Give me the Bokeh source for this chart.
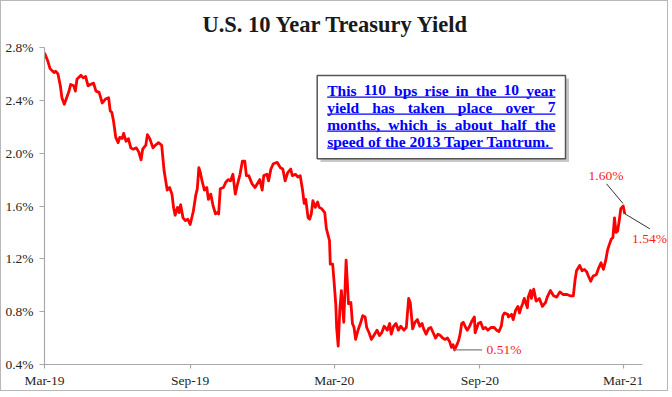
import pandas as pd
from datetime import datetime
from bokeh.plotting import figure
from bokeh.models import (Range1d, FixedTicker, DatetimeTickFormatter,
                          PrintfTickFormatter, Label, Arrow, ColumnDataSource)
from bokeh.embed import file_html
from bokeh.resources import INLINE

# ---------------- data ----------------
dates = [
    "2019-03-01", "2019-03-05", "2019-03-08", "2019-03-13", "2019-03-15", "2019-03-18",
    "2019-03-21", "2019-03-23", "2019-03-26", "2019-03-29", "2019-04-01", "2019-04-03",
    "2019-04-07", "2019-04-09", "2019-04-11", "2019-04-16", "2019-04-19", "2019-04-22",
    "2019-04-25", "2019-04-28", "2019-05-02", "2019-05-05", "2019-05-09", "2019-05-13",
    "2019-05-17", "2019-05-21", "2019-05-23", "2019-05-25", "2019-05-27", "2019-05-30",
    "2019-06-02", "2019-06-04", "2019-06-07", "2019-06-09", "2019-06-12", "2019-06-15",
    "2019-06-18", "2019-06-21", "2019-06-25", "2019-06-28", "2019-07-01", "2019-07-03",
    "2019-07-07", "2019-07-09", "2019-07-12", "2019-07-16", "2019-07-19", "2019-07-23",
    "2019-07-27", "2019-07-30", "2019-08-03", "2019-08-06", "2019-08-09", "2019-08-11",
    "2019-08-13", "2019-08-16", "2019-08-18", "2019-08-20", "2019-08-23", "2019-08-26",
    "2019-08-29", "2019-09-01", "2019-09-05", "2019-09-08", "2019-09-10", "2019-09-12",
    "2019-09-14", "2019-09-16", "2019-09-19", "2019-09-22", "2019-09-24", "2019-09-27",
    "2019-09-30", "2019-10-03", "2019-10-05", "2019-10-07", "2019-10-09", "2019-10-13",
    "2019-10-16", "2019-10-19", "2019-10-22", "2019-10-25", "2019-10-28", "2019-10-31",
    "2019-11-03", "2019-11-06", "2019-11-09", "2019-11-11", "2019-11-14", "2019-11-18",
    "2019-11-22", "2019-11-25", "2019-11-28", "2019-12-01", "2019-12-03", "2019-12-07",
    "2019-12-09", "2019-12-12", "2019-12-15", "2019-12-20", "2019-12-24", "2019-12-27",
    "2019-12-30", "2020-01-02", "2020-01-06", "2020-01-08", "2020-01-12", "2020-01-15",
    "2020-01-18", "2020-01-21", "2020-01-23", "2020-01-25", "2020-01-28", "2020-01-30",
    "2020-02-01", "2020-02-03", "2020-02-06", "2020-02-09", "2020-02-11", "2020-02-14",
    "2020-02-18", "2020-02-20", "2020-02-23", "2020-02-24", "2020-02-25", "2020-02-28",
    "2020-03-01", "2020-03-03", "2020-03-04", "2020-03-06", "2020-03-08", "2020-03-10",
    "2020-03-13", "2020-03-16", "2020-03-17", "2020-03-19", "2020-03-22", "2020-03-24",
    "2020-03-26", "2020-03-28", "2020-03-31", "2020-04-03", "2020-04-06", "2020-04-09",
    "2020-04-11", "2020-04-14", "2020-04-17", "2020-04-20", "2020-04-24", "2020-04-27",
    "2020-04-30", "2020-05-03", "2020-05-07", "2020-05-10", "2020-05-12", "2020-05-15",
    "2020-05-18", "2020-05-21", "2020-05-24", "2020-05-28", "2020-05-31", "2020-06-03",
    "2020-06-05", "2020-06-08", "2020-06-11", "2020-06-14", "2020-06-17", "2020-06-20",
    "2020-06-22", "2020-06-25", "2020-06-28", "2020-07-01", "2020-07-04", "2020-07-07",
    "2020-07-10", "2020-07-13", "2020-07-16", "2020-07-19", "2020-07-22", "2020-07-25",
    "2020-07-27", "2020-07-29", "2020-07-31", "2020-08-03", "2020-08-05", "2020-08-07",
    "2020-08-09", "2020-08-11", "2020-08-14", "2020-08-16", "2020-08-19", "2020-08-22",
    "2020-08-25", "2020-08-26", "2020-08-30", "2020-09-02", "2020-09-05", "2020-09-08",
    "2020-09-11", "2020-09-15", "2020-09-19", "2020-09-22", "2020-09-25", "2020-09-28",
    "2020-09-30", "2020-10-02", "2020-10-06", "2020-10-07", "2020-10-11", "2020-10-13",
    "2020-10-16", "2020-10-19", "2020-10-21", "2020-10-23", "2020-10-25", "2020-10-27",
    "2020-10-31", "2020-11-01", "2020-11-04", "2020-11-05", "2020-11-08", "2020-11-11",
    "2020-11-15", "2020-11-19", "2020-11-23", "2020-11-25", "2020-11-29", "2020-12-03",
    "2020-12-07", "2020-12-11", "2020-12-15", "2020-12-20", "2020-12-24", "2020-12-28",
    "2020-12-30", "2021-01-01", "2021-01-05", "2021-01-08", "2021-01-11", "2021-01-14",
    "2021-01-16", "2021-01-19", "2021-01-22", "2021-01-26", "2021-01-29", "2021-02-01",
    "2021-02-04", "2021-02-07", "2021-02-09", "2021-02-11", "2021-02-14", "2021-02-16",
    "2021-02-18", "2021-02-20", "2021-02-22", "2021-02-24", "2021-02-26", "2021-03-01",
    "2021-03-03",
]
yields = [
    2.76, 2.70, 2.64, 2.61, 2.62, 2.60,
    2.51, 2.42, 2.37, 2.42, 2.47, 2.52,
    2.51, 2.47, 2.56, 2.59, 2.57, 2.58,
    2.51, 2.52, 2.53, 2.47, 2.46, 2.38,
    2.41, 2.42, 2.32, 2.31, 2.25, 2.12,
    2.08, 2.12, 2.11, 2.15, 2.09, 2.11,
    2.04, 2.03, 2.04, 2.01, 1.95, 2.03,
    2.06, 2.14, 2.11, 2.04, 2.06, 2.08,
    2.06, 1.87, 1.72, 1.74, 1.69, 1.59,
    1.53, 1.59, 1.55, 1.61, 1.51, 1.49,
    1.50, 1.46, 1.56, 1.68, 1.73, 1.89,
    1.85, 1.79, 1.72, 1.74, 1.65, 1.69,
    1.60, 1.54, 1.55, 1.54, 1.73, 1.74,
    1.78, 1.80, 1.79, 1.84, 1.69, 1.77,
    1.84, 1.94, 1.94, 1.83, 1.83, 1.77,
    1.74, 1.77, 1.80, 1.72, 1.83, 1.84,
    1.79, 1.88, 1.92, 1.93, 1.89, 1.88,
    1.79, 1.85, 1.88, 1.83, 1.84, 1.82,
    1.83, 1.72, 1.62, 1.65, 1.51, 1.50,
    1.54, 1.64, 1.59, 1.63, 1.59, 1.58,
    1.55, 1.43, 1.36, 1.34, 1.16, 1.16,
    1.01, 0.85, 0.68, 0.54, 0.81, 0.96,
    0.72, 1.19, 1.08, 0.86, 0.87, 0.71,
    0.68, 0.59, 0.66, 0.71, 0.77, 0.76,
    0.68, 0.64, 0.59, 0.62, 0.66, 0.62,
    0.64, 0.69, 0.66, 0.71, 0.63, 0.69,
    0.71, 0.66, 0.69, 0.66, 0.68, 0.90,
    0.87, 0.67, 0.72, 0.74, 0.69, 0.71,
    0.67, 0.63, 0.67, 0.68, 0.64, 0.60,
    0.63, 0.62, 0.60, 0.59, 0.60, 0.57,
    0.53, 0.55, 0.51, 0.55, 0.58, 0.63,
    0.71, 0.72, 0.68, 0.66, 0.69, 0.73,
    0.76, 0.64, 0.71, 0.72, 0.67, 0.68,
    0.66, 0.68, 0.68, 0.66, 0.65, 0.69,
    0.77, 0.79, 0.78, 0.76, 0.78, 0.74,
    0.81, 0.84, 0.79, 0.83, 0.86, 0.90,
    0.83, 0.91, 0.96, 0.90, 0.97, 0.88,
    0.90, 0.84, 0.87, 0.91, 0.96, 0.92,
    0.91, 0.95, 0.93, 0.93, 0.92, 0.92,
    1.03, 1.11, 1.15, 1.11, 1.12, 1.10,
    1.07, 1.03, 1.07, 1.08, 1.13, 1.17,
    1.12, 1.19, 1.26, 1.30, 1.35, 1.36,
    1.51, 1.40, 1.41, 1.49, 1.58, 1.60,
    1.54,
]
y_ticks = [0.4, 0.8, 1.2, 1.6, 2.0, 2.4, 2.8]
x_tick_dates = ["2019-03-01", "2019-09-01", "2020-03-01", "2020-09-01", "2021-03-01"]
title_text = "U.S. 10 Year Treasury Yield"
note_lines = [
    "This 110 bps rise in the 10 year",
    "yield has taken place over 7",
    "months, which is about half the",
    "speed of the 2013 Taper Tantrum.",
]
peak_label, last_label, low_label = "1.60%", "1.54%", "0.51%"

# ---------------- geometry (page pixels) ----------------
# canvas 668x391 + 1px CSS border -> page 670x393, canvas origin at (1, 1)
W, H = 668, 391
ORG = 1
AX_L, AX_R = 44.0, 642.0      # x-axis line from Mar-19 to its end
PX_MAR21 = 622.7              # x position of the Mar-21 tick
FB, FT = 364.0, 1.0           # frame bottom / top (page px)
PX_PER_UNIT = 317.0 / 2.4     # y px per 1 percentage point
Y0, Y_AXIS_TOP = 0.4, 2.8

x0_ms = pd.Timestamp("2019-03-01").value // 10**6
mar21_ms = pd.Timestamp("2021-03-01").value // 10**6
MS_PER_PX = (mar21_ms - x0_ms) / (PX_MAR21 - AX_L)
FR = ORG + W                  # frame right edge (page px)


def XD(px):
    return x0_ms + (px - AX_L) * MS_PER_PX


def YD(py):
    return Y0 + (FB - py) / PX_PER_UNIT


p = figure(width=W, height=H, x_axis_type="datetime", output_backend="svg",
           toolbar_location=None, title=None,
           x_range=Range1d(x0_ms, XD(FR)), y_range=Range1d(Y0, YD(FT)),
           min_border_left=int(AX_L - ORG), min_border_right=0, min_border_top=0,
           min_border_bottom=int(ORG + H - FB),
           background_fill_color="white", border_fill_color="white")
p.styles = {"border": "1px solid #b8b8b8"}
p.outline_line_color = None
p.xgrid.visible = False
p.ygrid.visible = False

src = ColumnDataSource(dict(x=pd.to_datetime(dates), y=yields))
p.line("x", "y", source=src, line_color="#ff0000", line_width=2.8, line_join="round")

AX = "#a8a8a8"
TXT = "#262626"
FONT = "Liberation Serif"
for ax in (p.xaxis[0], p.yaxis[0]):
    ax.axis_line_color = AX
    ax.axis_line_width = 1.2
    ax.major_tick_line_color = AX
    ax.major_tick_line_width = 1.2
    ax.major_tick_in = 0
    ax.minor_tick_line_color = None
    ax.major_label_text_font = FONT
    ax.major_label_text_font_size = "13.5px"
    ax.major_label_text_color = TXT

p.yaxis.ticker = FixedTicker(ticks=y_ticks)
p.yaxis.formatter = PrintfTickFormatter(format="%.1f%%")
p.yaxis.bounds = (Y0, Y_AXIS_TOP)
p.yaxis.major_tick_out = 5
p.yaxis.major_label_standoff = 6

xt = [pd.Timestamp(d).value // 10**6 for d in x_tick_dates]
p.xaxis.ticker = FixedTicker(ticks=xt)
fmt = "%b-%y"
p.xaxis.formatter = DatetimeTickFormatter(
    milliseconds=fmt, seconds=fmt, minsec=fmt, minutes=fmt, hourmin=fmt, hours=fmt,
    days=fmt, months=fmt, years=fmt)
p.xaxis.bounds = (x0_ms, XD(AX_R))
p.xaxis.major_tick_out = 4
p.xaxis.major_label_standoff = 4

# title (centre of text box at y=24)
p.add_layout(Label(x=XD(335.5), y=YD(24.0), text=title_text, text_align="center",
                   text_baseline="middle", text_font=FONT, text_font_style="bold",
                   text_font_size="22.5px", text_color="#1a1a1a"))

# note box with shadow
p.quad(left=[XD(320)], right=[XD(568.5)], top=[YD(78)], bottom=[YD(161.5)],
       fill_color="#9a9a9a", fill_alpha=0.55, line_color=None)
p.quad(left=[XD(316.7)], right=[XD(565)], top=[YD(75)], bottom=[YD(158.3)],
       fill_color="white", line_color="#555555", line_width=1.5)

# Times-Bold metrics (Liberation Serif Bold is metric compatible)
TB = {' ': 250, 'T': 667, 'h': 556, 'i': 278, 's': 389, '1': 500, '0': 500, 'b': 556,
      'p': 556, 'r': 444, 'e': 444, 'n': 556, 't': 333, 'y': 500, 'a': 500, 'l': 278,
      'd': 556, 'k': 556, 'o': 500, 'v': 500, '7': 500, 'm': 833, ',': 250, 'w': 722,
      'c': 444, 'u': 556, 'f': 333, '2': 500, '3': 500, '.': 250, 'g': 500}
NFS = 15.5
MID_OFF = 5.2   # baseline minus text-box centre, px


def tw(s):
    return sum(TB.get(c, 500) for c in s) * NFS / 1000.0


def note_label(xpx, bpx, txt, align):
    p.add_layout(Label(x=XD(xpx), y=YD(bpx - MID_OFF), text=txt, text_align=align,
                       text_baseline="middle", text_font=FONT, text_font_style="bold",
                       text_font_size=f"{NFS}px", text_color=BLUE))


TL, TR = 326.7, 555.0
baselines = [95.0, 112.0, 129.0, 146.0]
BLUE = "#0000ff"
for i, line in enumerate(note_lines):
    by = baselines[i]
    words = line.split(" ")
    if i < len(note_lines) - 1:
        gap = (TR - TL - sum(tw(w) for w in words)) / (len(words) - 1)
        xpos = TL
        for j, wd in enumerate(words):
            if j == len(words) - 1:
                note_label(TR, by, wd, "right")
            else:
                note_label(xpos, by, wd, "left")
            xpos += tw(wd) + gap
        xe = TR
    else:
        note_label(TL, by, line, "left")
        xe = TL + tw(line)
    p.segment(x0=[XD(TL)], y0=[YD(by + 1.6)], x1=[XD(xe)], y1=[YD(by + 1.6)],
              line_color=BLUE, line_width=1.1)

# point annotations
RED = "#ff1a1a"
p.add_layout(Arrow(end=None, x_start=XD(606.0), y_start=YD(183.3), x_end=XD(622.5),
                   y_end=YD(203.0), line_color="#333333", line_width=1))
p.add_layout(Label(x=XD(605.5), y=YD(175), text=peak_label, text_align="center",
                   text_baseline="middle", text_font=FONT, text_font_size="13.5px",
                   text_color=RED))
p.add_layout(Arrow(end=None, x_start=XD(624.4), y_start=YD(213.3), x_end=XD(649.3),
                   y_end=YD(228.3), line_color="#333333", line_width=1))
p.add_layout(Label(x=XD(631.5), y=YD(238.3), text=last_label, text_align="left",
                   text_baseline="middle", text_font=FONT, text_font_size="13.5px",
                   text_color=RED))
p.add_layout(Arrow(end=None, x_start=XD(453.3), y_start=YD(349.3), x_end=XD(481.7),
                   y_end=YD(349.3), line_color="#808080", line_width=1.3))
p.add_layout(Label(x=XD(486.0), y=YD(349.0), text=low_label, text_align="left",
                   text_baseline="middle", text_font=FONT, text_font_size="13.5px",
                   text_color=RED))

open("out.html", "w").write(file_html(p, INLINE))
